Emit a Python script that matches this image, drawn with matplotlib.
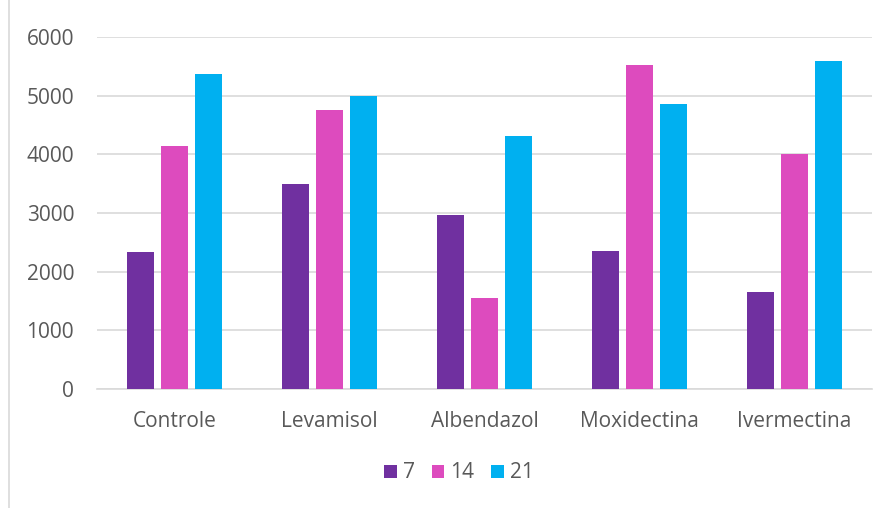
import numpy as np
import matplotlib.pyplot as plt
from matplotlib.lines import Line2D

categories = ['Controle', 'Levamisol', 'Albendazol', 'Moxidectina', 'Ivermectina']
series_names = ['7', '14', '21']
d7 = [2335, 3494, 2966, 2352, 1653]
d14 = [4142, 4755, 1551, 5522, 4005]
d21 = [5369, 4994, 4312, 4858, 5590]
colors = ['#7030A0', '#DD4BBE', '#00B0F0']

plt.rcParams['font.family'] = ['Open Sans', 'DejaVu Sans']
txt = '#595959'

fig = plt.figure(figsize=(8.87, 5.08), dpi=100)
ax = fig.add_axes([97/887, 1-389/508, (872-97)/887, (389-37)/508])

x = np.arange(len(categories))
w = 0.174
step = 0.219
for i, (vals, c) in enumerate(zip([d7, d14, d21], colors)):
    ax.bar(x + (i-1)*step, vals, width=w, color=c, label=series_names[i], zorder=3)

ax.set_xlim(-0.5, len(categories)-0.5)
ax.set_ylim(0, 6000)
ax.set_yticks(range(0, 6001, 1000))
ax.yaxis.grid(True, color='#D9D9D9', linewidth=1.2, zorder=0)
for s in ['top', 'right', 'left']:
    ax.spines[s].set_visible(False)
ax.spines['bottom'].set_color('#D9D9D9')
ax.spines['bottom'].set_linewidth(1.2)
ax.tick_params(length=0, labelsize=15, colors=txt)
ax.tick_params(axis='x', pad=16)
ax.tick_params(axis='y', pad=16.5)
ax.set_xticks(x)
ax.set_xticklabels(categories)

fig.legend(loc='center', bbox_to_anchor=(459/887, 1-473/508), ncol=3, frameon=False,
           fontsize=15, labelcolor=txt, handlelength=0.6, handleheight=0.6,
           handletextpad=0.3, columnspacing=0.8)

fig.add_artist(Line2D([9/887, 9/887], [0, 1], color='#D9D9D9', linewidth=1.2))

fig.savefig('out.png', dpi=100)
